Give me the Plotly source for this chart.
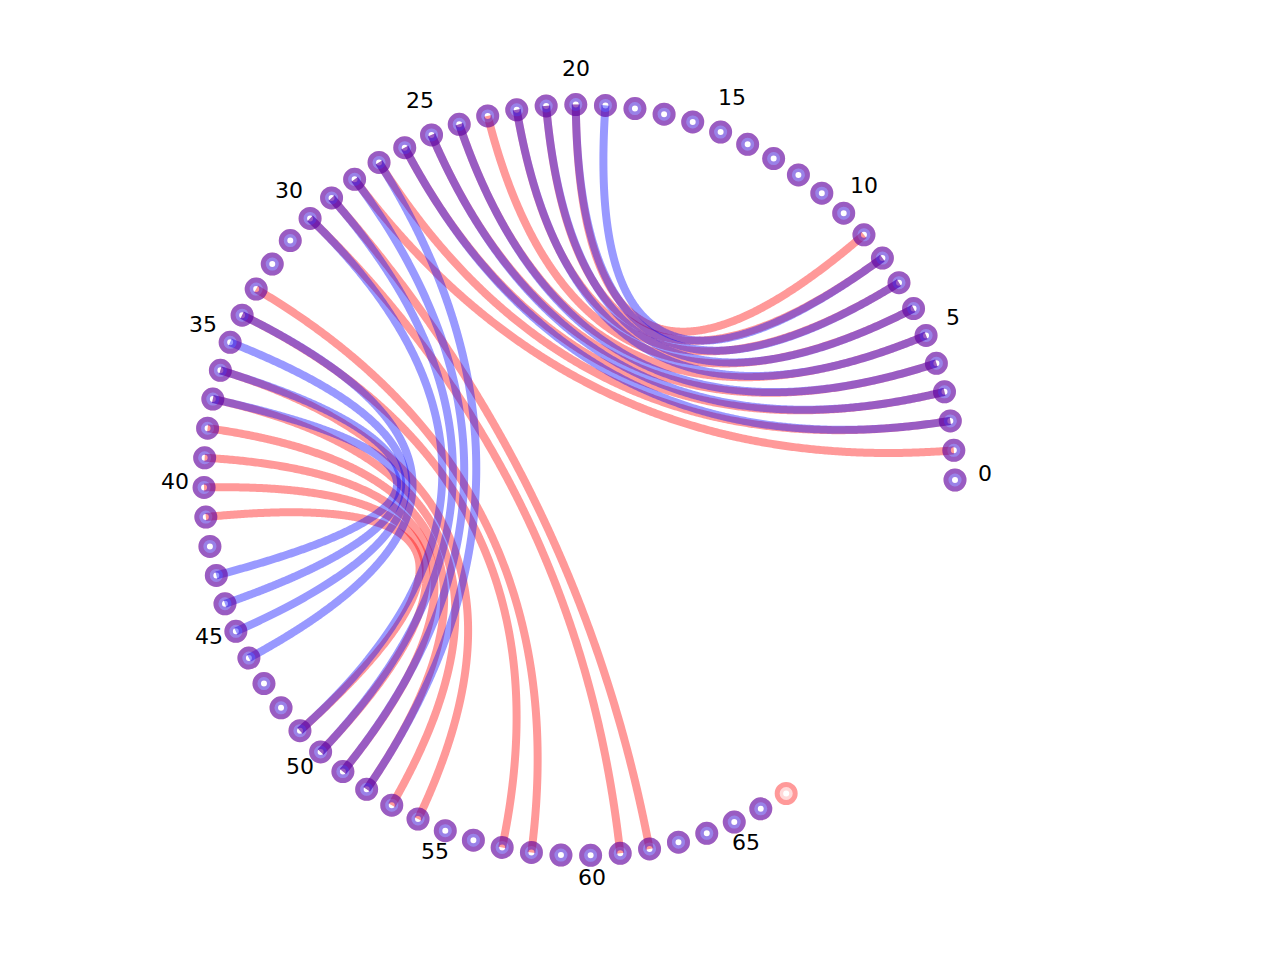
import numpy as np
import plotly.graph_objects as go

# two secondary structures drawn on the same circle
# red one has 68 bases, blue one 67
red_len = 68
blue_len = 67

# base pairs (i, j) of each structure
red_i = [1, 2, 3, 4, 5, 6, 7, 8, 9, 29, 30, 33, 34, 36, 37, 38, 39, 40, 41]
red_j = [28, 27, 26, 25, 24, 23, 22, 21, 20, 62, 61, 58, 57, 54, 53, 52, 51, 50, 49]

blue_i = [2, 3, 4, 5, 6, 7, 8, 27, 28, 29, 30, 34, 35, 36, 37]
blue_j = [26, 25, 24, 22, 21, 20, 19, 52, 51, 50, 49, 46, 45, 44, 43]

tick_labels = [0, 5, 10, 15, 20, 25, 30, 35, 40, 45, 50, 55, 60, 65]

RED = "rgba(255,0,0,0.4)"
BLUE = "rgba(0,0,255,0.4)"

# circle layout in page pixels (page has an 8px body margin, so the
# centre is placed 8px up/left of where it shows in the screenshot)
W, H = 1280, 960
CX, CY, RPX = 571.5, 472.0, 375.5   # CY measured from the top
STEP = 2 * np.pi / 79.5


def pos(idx, r=1.0):
    a = np.asarray(idx, dtype=float) * STEP
    return r * np.cos(a), r * np.sin(a)


def arc(i, j, n=400):
    # quadratic bezier with the circle centre as control point
    t = np.linspace(0, 1, n)
    xi, yi = pos(i)
    xj, yj = pos(j)
    x = (1 - t) ** 2 * xi + t ** 2 * xj
    y = (1 - t) ** 2 * yi + t ** 2 * yj
    return x, y


fig = go.Figure()

for i, j in zip(red_i, red_j):
    x, y = arc(i, j)
    fig.add_trace(go.Scatter(x=x, y=y, mode="lines", hoverinfo="skip",
                             line=dict(color=RED, width=8, simplify=False)))
for i, j in zip(blue_i, blue_j):
    x, y = arc(i, j)
    fig.add_trace(go.Scatter(x=x, y=y, mode="lines", hoverinfo="skip",
                             line=dict(color=BLUE, width=8, simplify=False)))

# node rings
rx, ry = pos(np.arange(red_len))
bx, by = pos(np.arange(blue_len))
fig.add_trace(go.Scatter(x=rx, y=ry, mode="markers", hoverinfo="skip",
                         marker=dict(symbol="circle-open", size=18, color=RED, line=dict(width=5))))
fig.add_trace(go.Scatter(x=rx, y=ry, mode="markers", hoverinfo="skip",
                         marker=dict(symbol="circle-open", size=9.5, color="rgba(255,0,0,0.15)",
                                     line=dict(width=3.5))))
fig.add_trace(go.Scatter(x=bx, y=by, mode="markers", hoverinfo="skip",
                         marker=dict(symbol="circle-open", size=14.5, color=BLUE, line=dict(width=8.5))))

# index labels
lx, ly = pos(tick_labels, 405 / RPX)
for lab, x, y in zip(tick_labels, lx, ly):
    fig.add_annotation(x=x, y=y, text=str(lab), showarrow=False, yshift=7,
                       font=dict(family="DejaVu Sans", size=22, color="black"))

fig.update_layout(
    width=W, height=H,
    margin=dict(l=0, r=0, t=0, b=0),
    paper_bgcolor="white", plot_bgcolor="white",
    showlegend=False,
    xaxis=dict(visible=False, range=[-CX / RPX, (W - CX) / RPX]),
    yaxis=dict(visible=False, range=[-(H - CY) / RPX, CY / RPX]),
)

fig.write_html("out.html")
